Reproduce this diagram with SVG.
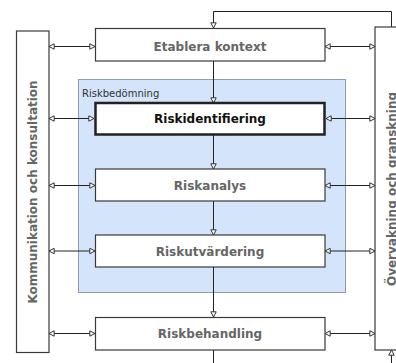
<svg xmlns="http://www.w3.org/2000/svg" width="396" height="363" viewBox="0 0 396 363">
<defs>
<style>
.box{fill:#fff;stroke:#3a3a3a;stroke-width:1.2}
.lbl{font-family:"DejaVu Sans",Verdana,sans-serif;font-weight:bold;font-size:12px;fill:#666;text-anchor:middle}
.con{fill:none;stroke:#222;stroke-width:1}
</style>
<marker id="ah" viewBox="0 0 7 7" refX="6" refY="3.5" markerWidth="7" markerHeight="7" markerUnits="userSpaceOnUse" orient="auto-start-reverse">
<path d="M0.8,0.8 L6,3.5 L0.8,6.2 z" fill="#fff" stroke="#333" stroke-width="1"/>
</marker>
</defs>
<rect width="396" height="363" fill="#fff"/>
<g id="riskbedomning">
<rect x="78.5" y="79.5" width="267" height="213" fill="#d3e4fb" stroke="#8d9cb4" stroke-width="1"/>
<text x="82" y="97" font-family="'DejaVu Sans',Verdana,sans-serif" font-size="10" fill="#333">Riskbedömning</text>
</g>
<g id="connectors">
<path class="con" d="M391.5,27 V11.5 H213.5 V28" marker-end="url(#ah)" stroke="#666"/>
<path class="con" d="M213.5,61 V103" marker-end="url(#ah)"/>
<path class="con" d="M213.5,135 V169" marker-end="url(#ah)"/>
<path class="con" d="M213.5,201 V235" marker-end="url(#ah)"/>
<path class="con" d="M213.5,267 V317" marker-end="url(#ah)"/>
<path class="con" d="M213.5,350 V363"/>
<path class="con" d="M391.5,363 V350" marker-end="url(#ah)"/>
<path class="con" d="M49,46.5 H95" marker-start="url(#ah)" marker-end="url(#ah)"/>
<path class="con" d="M49,118.5 H94" marker-start="url(#ah)" marker-end="url(#ah)"/>
<path class="con" d="M49,185.5 H95" marker-start="url(#ah)" marker-end="url(#ah)"/>
<path class="con" d="M49,251 H95" marker-start="url(#ah)" marker-end="url(#ah)"/>
<path class="con" d="M49,333.5 H95" marker-start="url(#ah)" marker-end="url(#ah)"/>
<path class="con" d="M325,46.5 H375" marker-start="url(#ah)" marker-end="url(#ah)"/>
<path class="con" d="M326,118.5 H375" marker-start="url(#ah)" marker-end="url(#ah)"/>
<path class="con" d="M325,185.5 H375" marker-start="url(#ah)" marker-end="url(#ah)"/>
<path class="con" d="M325,251 H375" marker-start="url(#ah)" marker-end="url(#ah)"/>
<path class="con" d="M325,333.5 H375" marker-start="url(#ah)" marker-end="url(#ah)"/>
</g>
<g id="kommunikation">
<rect class="box" x="16.5" y="31" width="32.5" height="321.5"/>
<text class="lbl" transform="translate(37,192) rotate(-90)">Kommunikation och konsultation</text>
</g>
<g id="overvakning">
<rect class="box" x="375" y="27" width="30" height="323"/>
<text class="lbl" transform="translate(396,189) rotate(-90)">Övervakning och granskning</text>
</g>
<g id="etablera">
<rect class="box" x="95.5" y="28.5" width="229.5" height="32.5"/>
<text class="lbl" x="210" y="51">Etablera kontext</text>
</g>
<g id="riskidentifiering">
<rect x="95.5" y="103" width="229" height="31.5" fill="#fff" stroke="#222" stroke-width="2.5"/>
<text class="lbl" x="210" y="123" fill="#111" style="fill:#111">Riskidentifiering</text>
</g>
<g id="riskanalys">
<rect class="box" x="95.5" y="169" width="229.5" height="32"/>
<text class="lbl" x="210" y="190">Riskanalys</text>
</g>
<g id="riskutvardering">
<rect class="box" x="95.5" y="235" width="229.5" height="32"/>
<text class="lbl" x="210" y="256">Riskutvärdering</text>
</g>
<g id="riskbehandling">
<rect class="box" x="95.5" y="317.5" width="229.5" height="32.5"/>
<text class="lbl" x="210" y="338">Riskbehandling</text>
</g>
</svg>
